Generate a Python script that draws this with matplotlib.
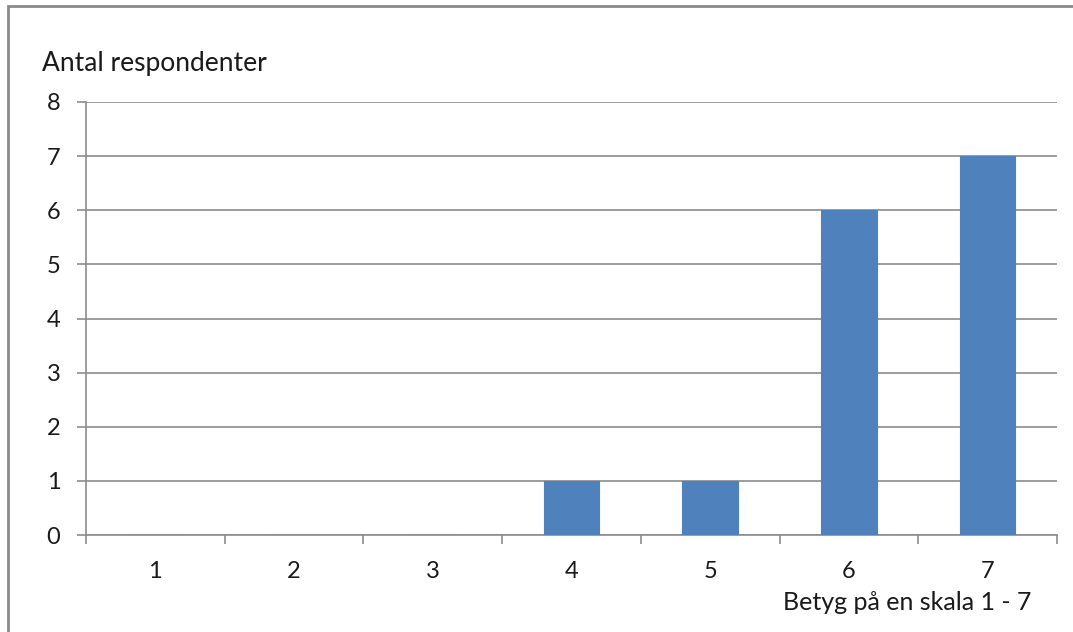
import matplotlib
matplotlib.use("Agg")
import matplotlib.pyplot as plt
from matplotlib.patches import Rectangle
import numpy as np

plt.rcParams['font.family'] = ['Lato', 'DejaVu Sans']

categories = ["1", "2", "3", "4", "5", "6", "7"]
counts = [0, 0, 0, 1, 1, 6, 7]
y_ticks = [0, 1, 2, 3, 4, 5, 6, 7, 8]

W, H, DPI = 1073, 632, 100
fig = plt.figure(figsize=(W / DPI, H / DPI), dpi=DPI)
fig.patch.set_facecolor("white")

# outer chart frame
fig.patches.append(Rectangle((8 / W, -0.1), 1.2, (H - 6) / H + 0.1,
                             transform=fig.transFigure, fill=False,
                             edgecolor="#8a8a8a", linewidth=2.0))

left, right, top, bottom = 86, 1057, 102, 535
ax = fig.add_axes([left / W, 1 - bottom / H, (right - left) / W, (bottom - top) / H])

grid_color = "#8c8c8c"
text_color = "#1a1a1a"
x = np.arange(len(categories))
ax.bar(x, counts, width=0.4, color="#4f81bd", edgecolor="#4f81bd", linewidth=0.8, zorder=3)

ax.set_xlim(-0.5, len(categories) - 0.5)
ax.set_ylim(0, 8)
ax.set_yticks(y_ticks)
ax.yaxis.grid(True, color=grid_color, linewidth=1.2, zorder=0)

ax.set_xticks(x)
ax.set_xticklabels(categories)
ax.set_xticks(np.arange(-0.5, len(categories), 1.0), minor=True)
ax.tick_params(axis="x", which="major", length=0, pad=19, labelsize=17, labelcolor=text_color)
ax.tick_params(axis="x", which="minor", length=6.5, width=1.2, color=grid_color, direction="out")
ax.tick_params(axis="y", length=6.5, width=1.2, color=grid_color, pad=12, labelsize=17,
               labelcolor=text_color)

for s in ["top", "right"]:
    ax.spines[s].set_visible(False)
for s in ["left", "bottom"]:
    ax.spines[s].set_color(grid_color)
    ax.spines[s].set_linewidth(1.2)

fig.text(42 / W, 1 - 63 / H, "Antal respondenter", fontsize=19, color=text_color,
         ha="left", va="center")
fig.text(1031 / W, 1 - 603 / H, "Betyg på en skala 1 - 7", fontsize=18, color=text_color,
         ha="right", va="center")

fig.savefig("out.png", dpi=DPI, facecolor="white")
